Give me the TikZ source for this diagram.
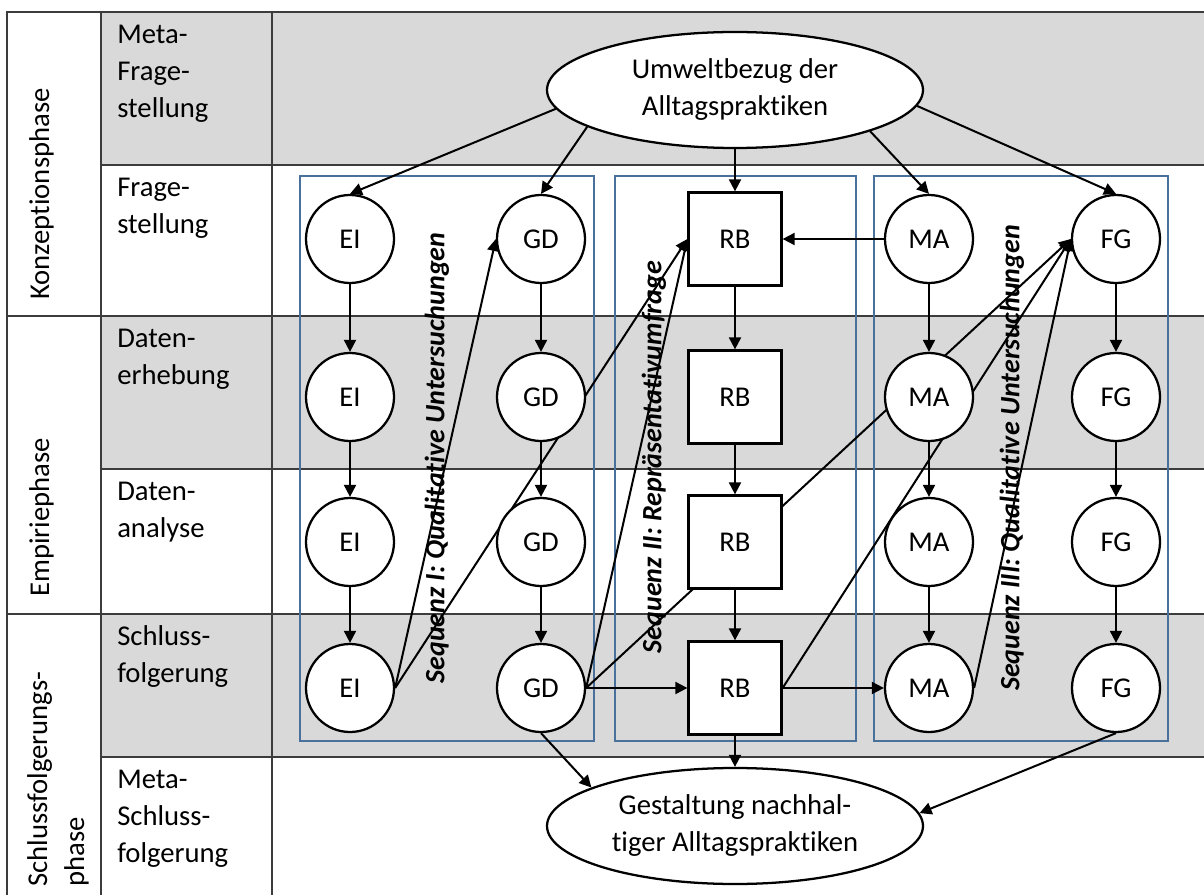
\documentclass[tikz,border=0pt]{standalone}
\usepackage{fontspec}
\setmainfont[Ligatures=NoCommon]{Carlito}
\usetikzlibrary{arrows.meta,shapes.geometric}

\definecolor{zeilengrau}{RGB}{217,217,217}
\definecolor{rahmenblau}{RGB}{74,112,156}
\definecolor{linie}{RGB}{60,60,60}

\pgfdeclarelayer{hinten}
\pgfdeclarelayer{mitte}
\pgfsetlayers{hinten,mitte,main}

\begin{document}
\begin{tikzpicture}[x=0.75pt,y=-0.75pt,
  font=\fontsize{21.5}{27.75}\selectfont,
  kreis/.style={circle,draw,line width=1.7pt,fill=white,minimum size=66pt,inner sep=0pt},
  kasten/.style={rectangle,draw,line width=1.7pt,fill=white,minimum size=69.75pt,inner sep=0pt},
  oval/.style={ellipse,draw,line width=1.7pt,fill=white,minimum width=282pt,minimum height=87pt,inner sep=0pt,align=center},
  pfeil/.style={line width=1.5pt,-{Triangle[length=9pt,width=9pt]}},
  tabelle/.style={draw=linie,line width=1pt},
  sequenz/.style={draw=rahmenblau,line width=1.2pt},
  seqtext/.style={rotate=90,inner sep=0pt,font=\fontsize{21}{25}\selectfont\bfseries\itshape},
  zeile/.style={anchor=north west,align=left,inner sep=0pt},
  phase/.style={rotate=90,anchor=north west,align=left,inner sep=0pt}]
  \useasboundingbox (0,0) rectangle (1204,895);

  % 表格
  \begin{pgfonlayer}{hinten}
    \fill[zeilengrau] (101,12) rectangle (1204,165);
    \fill[zeilengrau] (101,316) rectangle (1204,469);
    \fill[zeilengrau] (101,614) rectangle (1204,757);
    \draw[tabelle] (1204,12) -- (7,12) -- (7,895);
    \draw[tabelle] (101,12) -- (101,895);
    \draw[tabelle] (272,12) -- (272,895);
    \draw[tabelle] (101,165) -- (1204,165);
    \draw[tabelle] (7,316) -- (1204,316);
    \draw[tabelle] (101,469) -- (1204,469);
    \draw[tabelle] (7,614) -- (1204,614);
    \draw[tabelle] (101,757) -- (1204,757);

    % 三个序列框
    \draw[sequenz] (300,176) rectangle (594,741);
    \draw[sequenz] (615,176) rectangle (856,741);
    \draw[sequenz] (874,176) rectangle (1168,741);
  \end{pgfonlayer}

  % 第一列
  \node[phase] (konzeption) at (23,300) {\strut Konzeptionsphase};
  \node[phase] (empirie) at (23,597) {\strut Empiriephase};
  \node[phase] (schluss) at (21,887) {\strut Schlussfolgerungs-\\phase};

  % 第二列
  \node[zeile] (metafrage) at (117,17) {\strut Meta-\\Frage-\\stellung};
  \node[zeile] (frage) at (117,170) {\strut Frage-\\stellung};
  \node[zeile] (erhebung) at (117,321) {\strut Daten-\\erhebung};
  \node[zeile] (analyse) at (117,474) {\strut Daten-\\analyse};
  \node[zeile] (folgerung) at (117,619) {\strut Schluss-\\folgerung};
  \node[zeile] (metaschluss) at (117,762) {\strut Meta-\\Schluss-\\folgerung};

  % 椭圆
  \node[oval] (umwelt) at (735,90) {Umweltbezug der\\Alltagspraktiken};
  \node[oval] (gestaltung) at (735,826) {Gestaltung nachhal-\\tiger Alltagspraktiken};

  % EI
  \node[kreis] (ei1) at (350,239) {EI};
  \node[kreis] (ei2) at (350,397) {EI};
  \node[kreis] (ei3) at (350,542) {EI};
  \node[kreis] (ei4) at (350,688) {EI};
  % GD
  \node[kreis] (gd1) at (541,239) {GD};
  \node[kreis] (gd2) at (541,397) {GD};
  \node[kreis] (gd3) at (541,542) {GD};
  \node[kreis] (gd4) at (541,688) {GD};
  % RB
  \node[kasten] (rb1) at (735,239) {RB};
  \node[kasten] (rb2) at (735,397) {RB};
  \node[kasten] (rb3) at (735,542) {RB};
  \node[kasten] (rb4) at (735,688) {RB};
  % MA
  \node[kreis] (ma1) at (929,239) {MA};
  \node[kreis] (ma2) at (929,397) {MA};
  \node[kreis] (ma3) at (929,542) {MA};
  \node[kreis] (ma4) at (929,688) {MA};
  % FG
  \node[kreis] (fg1) at (1116,239) {FG};
  \node[kreis] (fg2) at (1116,397) {FG};
  \node[kreis] (fg3) at (1116,542) {FG};
  \node[kreis] (fg4) at (1116,688) {FG};

  % 箭头
  \begin{pgfonlayer}{mitte}
    \draw[pfeil] (umwelt.186) -- (ei1.north);
    \draw[pfeil] (umwelt.194) -- (gd1.north);
    \draw[pfeil] (umwelt.south) -- (rb1.north);
    \draw[pfeil] (umwelt.343) -- (ma1.north);
    \draw[pfeil] (umwelt.355) -- (fg1.north);

    \draw[pfeil] (ei1) -- (ei2);
    \draw[pfeil] (ei2) -- (ei3);
    \draw[pfeil] (ei3) -- (ei4);
    \draw[pfeil] (gd1) -- (gd2);
    \draw[pfeil] (gd2) -- (gd3);
    \draw[pfeil] (gd3) -- (gd4);
    \draw[pfeil] (rb1) -- (rb2);
    \draw[pfeil] (rb2) -- (rb3);
    \draw[pfeil] (rb3) -- (rb4);
    \draw[pfeil] (ma1) -- (ma2);
    \draw[pfeil] (ma2) -- (ma3);
    \draw[pfeil] (ma3) -- (ma4);
    \draw[pfeil] (fg1) -- (fg2);
    \draw[pfeil] (fg2) -- (fg3);
    \draw[pfeil] (fg3) -- (fg4);

    \draw[pfeil] (ma1) -- (rb1);
    \draw[pfeil] (gd4) -- (rb4);
    \draw[pfeil] (rb4) -- (ma4);

    \draw[pfeil] (ei4.east) -- (gd1.west);
    \draw[pfeil] (ei4.east) -- (rb1.west);
    \draw[pfeil] (gd4.east) -- (rb1.west);
    \draw[pfeil] (gd4.east) -- (fg1.west);
    \draw[pfeil] (rb4.east) -- (fg1.west);
    \draw[pfeil] (ma4.east) -- (fg1.west);

    \draw[pfeil] (gd4.south) -- (gestaltung.165);
    \draw[pfeil] (rb4) -- (gestaltung);
    \draw[pfeil] (fg4.south) -- (gestaltung.4);
  \end{pgfonlayer}

  % 序列标签
  \node[seqtext] (seq1) at (437,458) {Sequenz I: Qualitative Untersuchungen};
  \node[seqtext] (seq2) at (654,457) {Sequenz II: Repräsentativumfrage};
  \node[seqtext] (seq3) at (1012,458) {Sequenz III: Qualitative Untersuchungen};
\end{tikzpicture}
\end{document}
